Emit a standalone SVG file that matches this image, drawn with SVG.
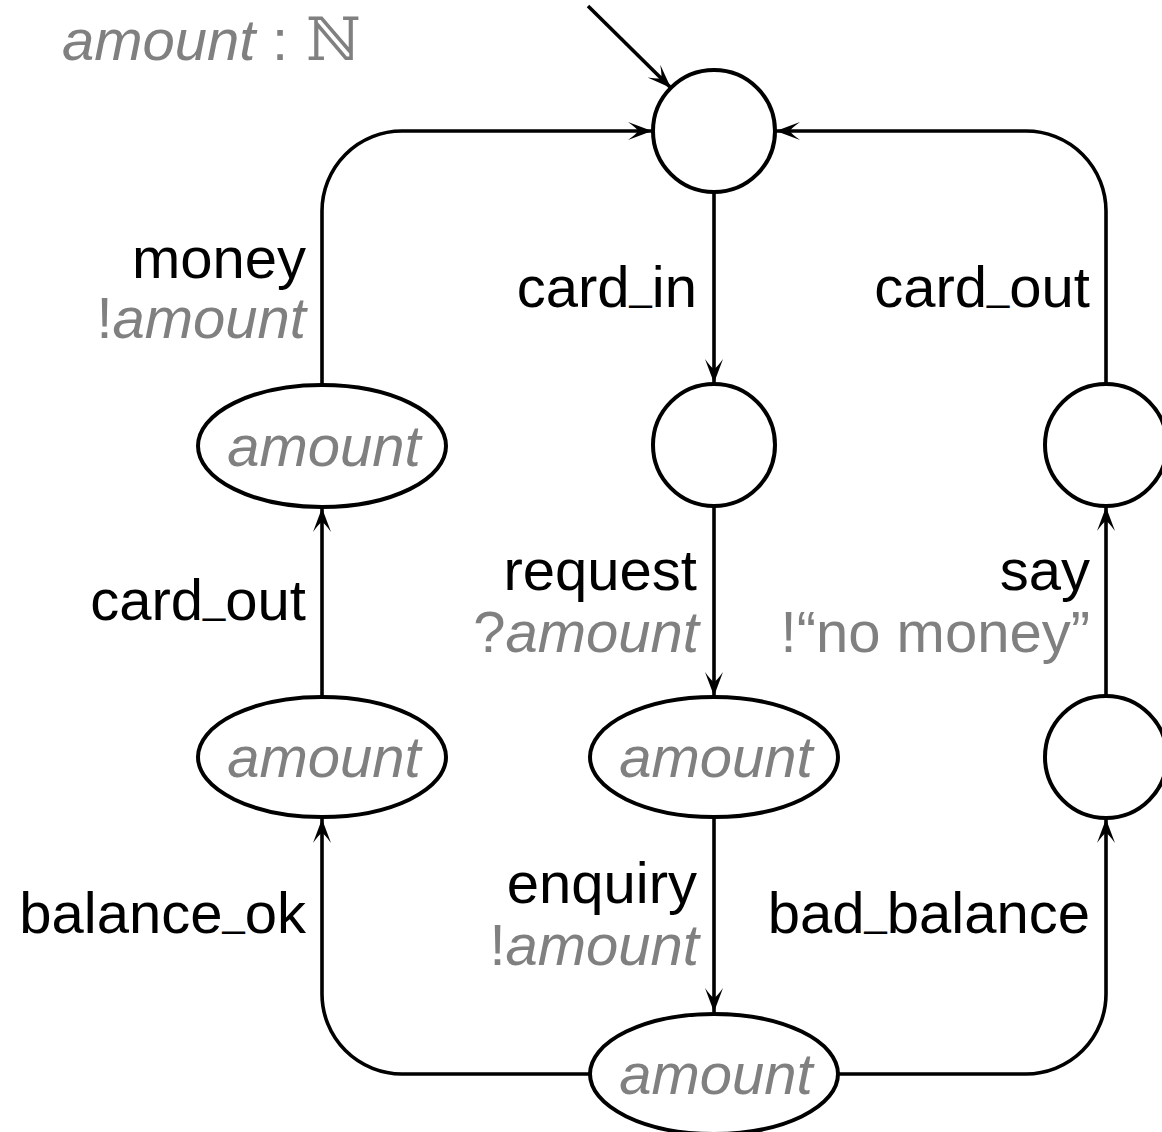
<svg xmlns="http://www.w3.org/2000/svg" width="1162" height="1132" viewBox="0 0 1162 1132">
  <style>
    .state { fill: #ffffff; stroke: #000000; stroke-width: 4; }
    .edge { fill: none; stroke: #000000; stroke-width: 3.6; marker-end: url(#arrow); }
    text { font-family: "Liberation Sans", Arial, Helvetica, sans-serif; font-size: 58px; }
    .act { fill: #000000; text-anchor: end; }
    .data { fill: #808080; text-anchor: end; }
    .var { fill: #808080; font-style: italic; }
    .mid { text-anchor: middle; }
    .us { font-size: 40px; }
  </style>
  <defs>
    <marker id="arrow" markerUnits="userSpaceOnUse" markerWidth="32" markerHeight="26" viewBox="-26 -13 32 26" refX="0" refY="0" orient="auto">
      <path d="M0,0 L-24,-9 Q-15,-2.5 -14,0 Q-15,2.5 -24,9 Z" fill="#000000"/>
    </marker>
  </defs>

  <rect width="1162" height="1132" fill="#ffffff"/>

  <!-- variable declaration -->
  <text x="62" y="60"><tspan class="var">amount</tspan><tspan fill="#808080" x="272">:</tspan><tspan fill="#808080" x="306" font-family="'DejaVu Serif', 'DejaVu Sans', serif" font-size="60">ℕ</tspan></text>

  <!-- transitions -->
  <g id="connectors">
    <path class="edge" d="M588,6 L671,88"/>
    <path class="edge" d="M714,192 L714,383"/>
    <path class="edge" d="M714,506 L714,696"/>
    <path class="edge" d="M714,818 L714,1012"/>
    <path class="edge" d="M590,1074 L402,1074 A80,80 0 0 1 322,994 L322,819"/>
    <path class="edge" d="M322,697 L322,508"/>
    <path class="edge" d="M322,385 L322,211 A80,80 0 0 1 402,131 L652,131"/>
    <path class="edge" d="M838,1074 L1026,1074 A80,80 0 0 0 1106,994 L1106,819"/>
    <path class="edge" d="M1106,696 L1106,507"/>
    <path class="edge" d="M1106,384 L1106,211 A80,80 0 0 0 1026,131 L776,131"/>
  </g>

  <!-- states -->
  <g id="s0"><circle class="state" cx="714" cy="131" r="61"/></g>
  <g id="s1"><circle class="state" cx="714" cy="445" r="61"/></g>
  <g id="s2">
    <ellipse class="state" cx="714" cy="757" rx="124" ry="60"/>
    <text class="var mid" x="716" y="777">amount</text>
  </g>
  <g id="s3">
    <ellipse class="state" cx="714" cy="1074" rx="124" ry="60"/>
    <text class="var mid" x="716" y="1094">amount</text>
  </g>
  <g id="s4">
    <ellipse class="state" cx="322" cy="757" rx="124" ry="60"/>
    <text class="var mid" x="324" y="777">amount</text>
  </g>
  <g id="s5">
    <ellipse class="state" cx="322" cy="446" rx="124" ry="61"/>
    <text class="var mid" x="324" y="466">amount</text>
  </g>
  <g id="s6"><circle class="state" cx="1106" cy="757" r="61"/></g>
  <g id="s7"><circle class="state" cx="1106" cy="445" r="61"/></g>

  <!-- transition labels -->
  <g id="labels">
    <text class="act" x="306" y="278">money</text>
    <text class="data" x="306" y="338">!<tspan class="var">amount</tspan></text>
    <text class="act" x="697" y="307">card<tspan class="us" dy="-7">_</tspan><tspan dy="7">in</tspan></text>
    <text class="act" x="1090" y="307">card<tspan class="us" dy="-7">_</tspan><tspan dy="7">out</tspan></text>
    <text class="act" x="697" y="590">request</text>
    <text class="data" x="699" y="652">?<tspan class="var">amount</tspan></text>
    <text class="act" x="1090" y="590">say</text>
    <text class="data" x="1090" y="652">!“no money”</text>
    <text class="act" x="306" y="620">card<tspan class="us" dy="-7">_</tspan><tspan dy="7">out</tspan></text>
    <text class="act" x="697" y="903">enquiry</text>
    <text class="data" x="699" y="965">!<tspan class="var">amount</tspan></text>
    <text class="act" x="306" y="933">balance<tspan class="us" dy="-7">_</tspan><tspan dy="7">ok</tspan></text>
    <text class="act" x="1090" y="933">bad<tspan class="us" dy="-7">_</tspan><tspan dy="7">balance</tspan></text>
  </g>
</svg>
